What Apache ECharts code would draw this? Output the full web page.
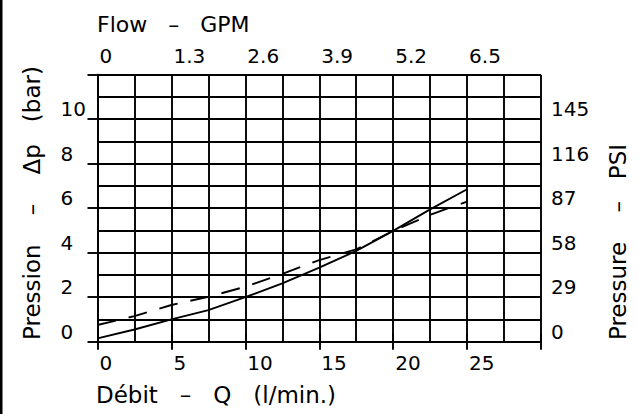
<!DOCTYPE html>
<html>
<head>
<meta charset="utf-8">
<script src="https://cdn.jsdelivr.net/npm/echarts@6/dist/echarts.min.js"></script>
<style>
  html, body { margin: 0; padding: 0; background: #fff; }
  #chart { width: 638px; height: 414px; }
</style>
</head>
<body>
<div id="chart"></div>
<script>
// ---- data ----
const flowLpm = [0, 2.5, 5, 7.5, 10, 12.5, 15, 17.5, 20, 22.5, 25];
const solidBar = [0.15, 0.55, 1.0, 1.42, 2.0, 2.62, 3.33, 4.08, 4.98, 5.95, 6.85];
const dashedBar = [0.75, 1.15, 1.65, 2.02, 2.47, 3.05, 3.67, 4.15, 4.98, 5.7, 6.3];
const qLabels = ['0', '5', '10', '15', '20', '25'];
const gpmLabels = ['0', '1.3', '2.6', '3.9', '5.2', '6.5'];
const barLabels = ['0', '2', '4', '6', '8', '10'];
const psiLabels = ['0', '29', '58', '87', '116', '145'];

const FONT = 'DejaVu Sans';
const LW = 1.9;
const line = { color: '#000', width: LW };

function pairs(xs, ys) { return xs.map((x, i) => [x, ys[i]]); }

const chart = echarts.init(document.getElementById('chart'), null, { renderer: 'svg' });

const baseX = {
  type: 'value', min: 0, max: 30, interval: 5,
  axisLine: { show: true, lineStyle: line },
  axisTick: { show: true, length: 8, lineStyle: line },
  minorTick: { show: false, splitNumber: 2 },
  splitLine: { show: false },
  minorSplitLine: { show: false }
};
const baseY = {
  type: 'value', min: 0, max: 12, interval: 2,
  axisLine: { show: true, lineStyle: line },
  axisTick: { show: true, length: 10, lineStyle: line },
  minorTick: { show: false, splitNumber: 2 },
  splitLine: { show: false },
  minorSplitLine: { show: false }
};

chart.setOption({
  animation: false,
  backgroundColor: '#fff',
  grid: { left: 97.5, top: 74.7, width: 443.5, height: 267, containLabel: false },
  xAxis: [
    Object.assign({}, baseX, {
      position: 'bottom',
      splitLine: { show: true, lineStyle: line },
      minorSplitLine: { show: true, lineStyle: line },
      axisLabel: {
        show: true, margin: 11, align: 'left', padding: [0, 0, 0, 2],
        color: '#000', fontFamily: FONT, fontSize: 20,
        formatter: v => qLabels[Math.round(v / 5)] || ''
      }
    }),
    Object.assign({}, baseX, {
      position: 'top',
      axisLabel: {
        show: true, margin: 9, align: 'left', padding: [0, 0, 0, 2],
        color: '#000', fontFamily: FONT, fontSize: 20,
        formatter: v => gpmLabels[Math.round(v / 5)] || ''
      }
    })
  ],
  yAxis: [
    Object.assign({}, baseY, {
      position: 'left',
      splitLine: { show: true, lineStyle: line },
      minorSplitLine: { show: true, lineStyle: line },
      axisLabel: {
        show: true, margin: 37, align: 'left', verticalAlign: 'bottom',
        color: '#000', fontFamily: FONT, fontSize: 20,
        formatter: v => barLabels[Math.round(v / 2)] || ''
      }
    }),
    Object.assign({}, baseY, {
      position: 'right',
      axisTick: { show: true, length: 9, lineStyle: line },
      axisLabel: {
        show: true, margin: 10, align: 'left', verticalAlign: 'bottom',
        color: '#000', fontFamily: FONT, fontSize: 20,
        formatter: v => psiLabels[Math.round(v / 2)] || ''
      }
    })
  ],
  series: [
    {
      type: 'line', xAxisIndex: 0, yAxisIndex: 0,
      data: pairs(flowLpm, solidBar),
      symbol: 'none', smooth: false,
      lineStyle: { color: '#000', width: LW, type: 'solid' }
    },
    {
      type: 'line', xAxisIndex: 0, yAxisIndex: 0,
      data: pairs(flowLpm, dashedBar),
      symbol: 'none', smooth: false,
      lineStyle: { color: '#000', width: LW, type: [19, 13] }
    }
  ],
  graphic: [
    { type: 'rect', left: 0, top: 0, shape: { x: 0, y: 0, width: 2.5, height: 414 }, style: { fill: '#000' } },
    { type: 'text', x: 97, y: 24,
      style: { text: 'Flow   –   GPM', fill: '#000', font: '22px "DejaVu Sans"', textAlign: 'left', textVerticalAlign: 'middle' } },
    { type: 'text', x: 96, y: 395,
      style: { text: 'Débit   –   Q   (l/min.)', fill: '#000', font: '23px "DejaVu Sans"', textAlign: 'left', textVerticalAlign: 'middle' } },
    { type: 'text', x: 32, y: 203, rotation: Math.PI / 2,
      style: { text: 'Pression    –    Δp   (bar)', fill: '#000', font: '23px "DejaVu Sans"', textAlign: 'center', textVerticalAlign: 'middle' } },
    { type: 'text', x: 618, y: 242, rotation: Math.PI / 2,
      style: { text: 'Pressure    –   PSI', fill: '#000', font: '23px "DejaVu Sans"', textAlign: 'center', textVerticalAlign: 'middle' } }
  ]
});
</script>
</body>
</html>
